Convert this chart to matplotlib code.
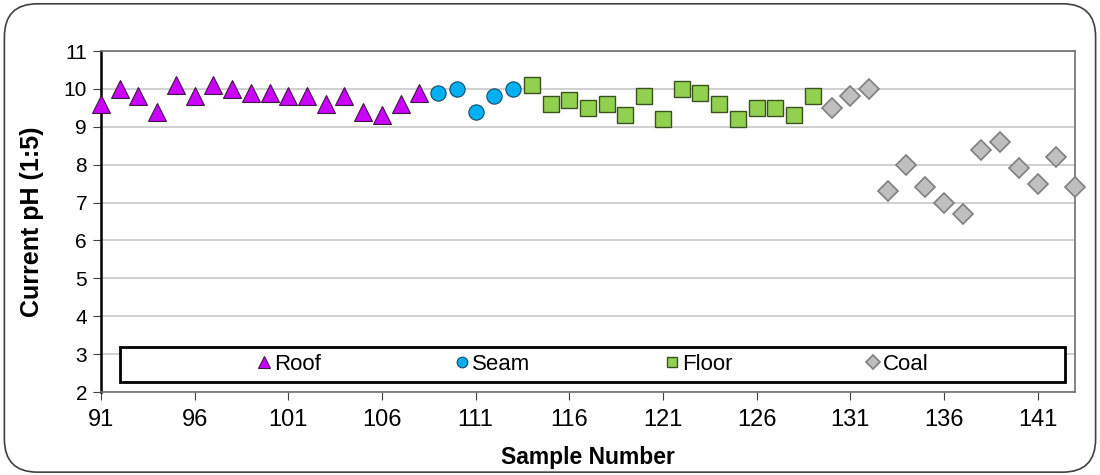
import matplotlib
matplotlib.use("Agg")
import matplotlib.pyplot as plt
from matplotlib.patches import FancyBboxPatch, Rectangle

plt.rcParams['font.family'] = ['Liberation Sans', 'DejaVu Sans']

roof_x = list(range(91, 109))
roof_y = [9.6, 10.0, 9.8, 9.4, 10.1, 9.8, 10.1, 10.0, 9.9, 9.9, 9.8, 9.8, 9.6, 9.8, 9.4, 9.3, 9.6, 9.9]
seam_x = list(range(109, 114))
seam_y = [9.9, 10.0, 9.4, 9.8, 10.0]
floor_x = list(range(114, 130))
floor_y = [10.1, 9.6, 9.7, 9.5, 9.6, 9.3, 9.8, 9.2, 10.0, 9.9, 9.6, 9.2, 9.5, 9.5, 9.3, 9.8]
coal_x = list(range(130, 144))
coal_y = [9.5, 9.8, 10.0, 7.3, 8.0, 7.4, 7.0, 6.7, 8.4, 8.6, 7.9, 7.5, 8.2, 7.4]
x_ticks = list(range(91, 142, 5))
y_ticks = list(range(2, 12))

fig = plt.figure(figsize=(11, 4.75), dpi=100)
ax = fig.add_axes([0.0918, 0.1747, 0.8855, 0.7179])

# rounded figure border
fig.patches.append(FancyBboxPatch((0.004, 0.006), 0.992, 0.986, boxstyle="round,pad=0,rounding_size=0.03",
                                  transform=fig.transFigure, fc='none', ec='#404040', lw=1.2,
                                  mutation_aspect=1100/475))

ax.plot(roof_x, roof_y, ls='none', marker='^', ms=12.5, mfc='#CC00FF', mec='#3a1a40', mew=0.8, label='Roof', zorder=3, clip_on=False)
ax.plot(seam_x, seam_y, ls='none', marker='o', ms=11, mfc='#00B0F0', mec='#1a4a66', mew=0.8, label='Seam', zorder=3, clip_on=False)
ax.plot(floor_x, floor_y, ls='none', marker='s', ms=11, mfc='#92D050', mec='#3a5220', mew=1.0, label='Floor', zorder=3, clip_on=False)
ax.plot(coal_x, coal_y, ls='none', marker='D', ms=10, mfc='#BFBFBF', mec='#7F7F7F', mew=1.2, label='Coal', zorder=3, clip_on=False)

ax.set_xlim(91, 143)
ax.set_ylim(2, 11)
ax.set_xticks(x_ticks)
ax.set_yticks(y_ticks)
ax.grid(axis='y', color='#c8c8c8', lw=1.2, zorder=0)
ax.set_axisbelow(True)
ax.tick_params(axis='both', direction='out', length=6, color='#404040')
ax.tick_params(axis='x', labelsize=17, pad=6)
ax.tick_params(axis='y', labelsize=15, pad=4)
for s in ['top', 'right', 'bottom']:
    ax.spines[s].set_color('#707070')
    ax.spines[s].set_linewidth(1.2)
ax.spines['left'].set_color('black')
ax.spines['left'].set_linewidth(1.8)

ax.set_xlabel('Sample Number', fontsize=16.5, fontweight='bold', labelpad=11)
ax.set_ylabel('Current pH (1:5)', fontsize=18, fontweight='bold', labelpad=14)

# legend box
ax.add_patch(Rectangle((0.0195, 0.029), 0.970, 0.103, transform=ax.transAxes, fc='white', ec='black', lw=2, zorder=4))
leg = ax.legend(loc='center', bbox_to_anchor=(0.0195 + 0.485 + 0.001, 0.029 + 0.0515), ncol=4, frameon=False,
                fontsize=16, handlelength=0.6, handletextpad=0.15, columnspacing=6.05, markerscale=0.7)
leg.set_zorder(5)

fig.savefig('out.png', dpi=100)
